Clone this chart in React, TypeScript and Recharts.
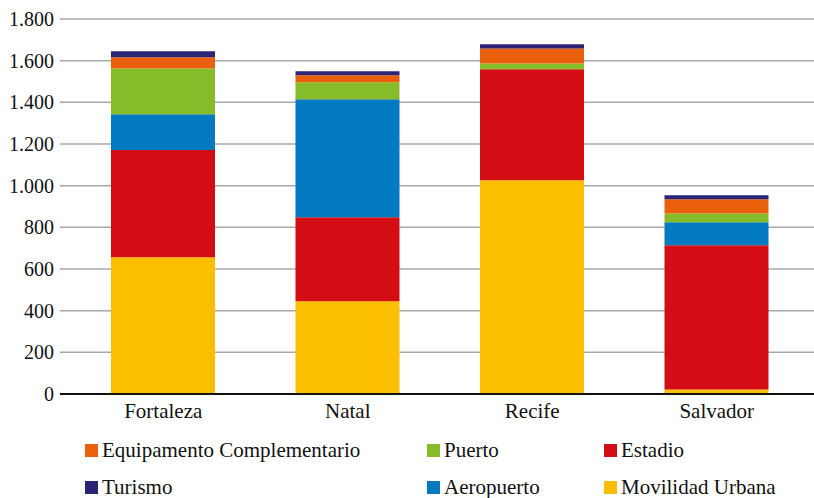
import React from 'react';
import { BarChart, Bar, XAxis, YAxis, CartesianGrid, Legend } from 'recharts';

// Inversión por ciudad y tipo de obra
const ciudades = ['Fortaleza', 'Natal', 'Recife', 'Salvador'];
const movilidadUrbana = [656, 445, 1026, 22];
const estadio = [515, 403, 533, 692];
const aeropuerto = [172, 567, 0, 110];
const puerto = [220, 81, 28, 43];
const equipamiento = [53, 34, 72, 68];
const turismo = [29, 19, 20, 19];
const yTicks = [0, 200, 400, 600, 800, 1000, 1200, 1400, 1600, 1800];

const data = ciudades.map((ciudad, i) => ({
  ciudad,
  movilidad: movilidadUrbana[i],
  estadio: estadio[i],
  aeropuerto: aeropuerto[i],
  puerto: puerto[i],
  equipamiento: equipamiento[i],
  turismo: turismo[i],
}));

const FONT = '"Liberation Serif", "Times New Roman", serif';

const series = [
  { key: 'movilidad', name: 'Movilidad Urbana', color: '#FBBF00' },
  { key: 'estadio', name: 'Estadio', color: '#D40C14' },
  { key: 'aeropuerto', name: 'Aeropuerto', color: '#017AC1' },
  { key: 'puerto', name: 'Puerto', color: '#86BB29' },
  { key: 'equipamiento', name: 'Equipamento Complementario', color: '#EA600A' },
  { key: 'turismo', name: 'Turismo', color: '#2B2374' },
];

// legend grid: three columns, two rows
const legendLayout = [
  { key: 'equipamiento', col: 0, row: 0 },
  { key: 'puerto', col: 1, row: 0 },
  { key: 'estadio', col: 2, row: 0 },
  { key: 'turismo', col: 0, row: 1 },
  { key: 'aeropuerto', col: 1, row: 1 },
  { key: 'movilidad', col: 2, row: 1 },
];
const colX = [85, 427, 604];
const rowY = [7, 44];

const formatMiles = (v: number) =>
  v >= 1000 ? `${Math.floor(v / 1000)}.${String(v % 1000).padStart(3, '0')}` : String(v);

const LegendGrid = () => (
  <div style={{ position: 'relative', width: 814, height: 62, fontFamily: FONT }}>
    {legendLayout.map((item) => {
      const s = series.find((x) => x.key === item.key)!;
      return (
        <div
          key={item.key}
          style={{
            position: 'absolute',
            left: colX[item.col],
            top: rowY[item.row],
            display: 'flex',
            alignItems: 'center',
            height: 14,
            whiteSpace: 'nowrap',
          }}
        >
          <span style={{ display: 'inline-block', width: 13, height: 13, background: s.color, marginRight: 4 }} />
          <span style={{ fontSize: 21, color: '#111', lineHeight: '14px', fontFamily: FONT }}>{s.name}</span>
        </div>
      );
    })}
  </div>
);

export default function App() {
  return (
    <div style={{ position: 'absolute', left: 0, top: 0, width: 814, height: 498, background: '#fff' }}>
      <BarChart
        width={814}
        height={498}
        data={data}
        margin={{ top: 19, right: 0, bottom: 74, left: 0 }}
      >
        <CartesianGrid vertical={false} stroke="#a8a8a8" strokeWidth={1.5} />
        <XAxis
          dataKey="ciudad"
          height={30}
          tickLine={false}
          tickSize={6}
          tickMargin={3}
          padding={{ left: 11, right: 5 }}
          axisLine={{ stroke: '#111', strokeWidth: 2 }}
          tick={{ fontFamily: FONT, fontSize: 21, fill: '#111' }}
        />
        <YAxis
          width={60}
          domain={[0, 1800]}
          ticks={yTicks}
          interval={0}
          axisLine={false}
          tickLine={false}
          tickSize={6}
          tickMargin={0}
          tickFormatter={formatMiles}
          tick={{ fontFamily: FONT, fontSize: 20, fill: '#111' }}
        />
        <Legend
          layout="horizontal"
          verticalAlign="middle"
          wrapperStyle={{ left: 0, top: 436, width: 814, height: 62 }}
          content={() => <LegendGrid />}
        />
        {series.map((s) => (
          <Bar
            key={s.key}
            dataKey={s.key}
            name={s.name}
            stackId="total"
            fill={s.color}
            barSize={104}
            isAnimationActive={false}
          />
        ))}
      </BarChart>
    </div>
  );
}
